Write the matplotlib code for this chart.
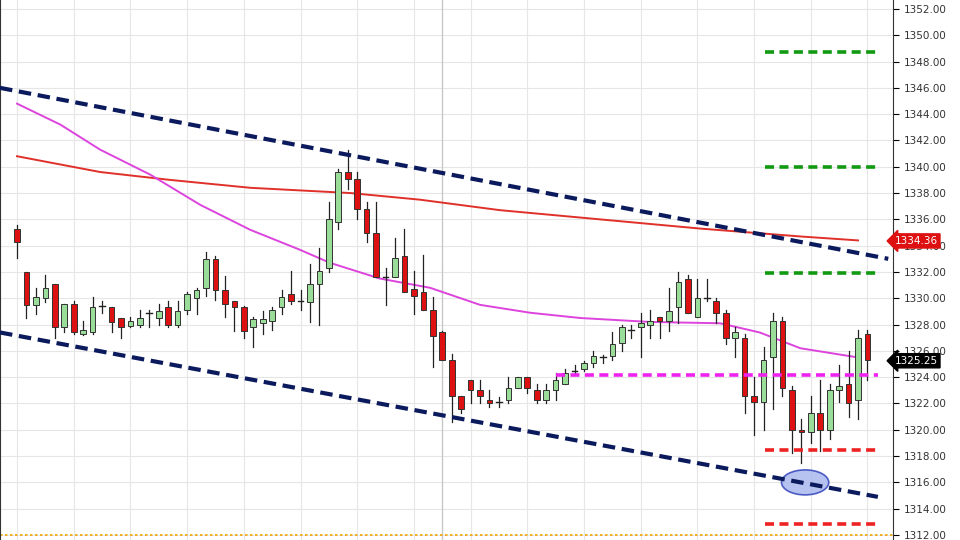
import matplotlib
matplotlib.use("Agg")
import matplotlib.pyplot as plt
from matplotlib.patches import Ellipse, Rectangle

opens = [1335.3,1332,1329.5,1330,1331.1,1327.8,1329.6,1327.3,1327.4,1329.4,1329.3,1328.5,1327.9,1328.0,1328.9,1328.5,1329.3,1328,1329.1,1330,
         1330.8,1333,1330.6,1329.8,1329.3,1327.8,1328.1,1328.3,1329.3,1330.3,1329.8,1329.7,1331.1,1332.3,1335.8,1339.6,1339.1,1336.8,1335,1331.6,
         1331.6,1333.2,1330.7,1330.5,1329.1,1327.4,1325.3,1322.6,1323.8,1323,1322.3,1322.1,1322.3,1323.2,1324,1323,1322.3,1323,1323.5,1324.5,
         1324.6,1325.1,1325.5,1325.6,1326.6,1327.6,1327.8,1328,1328.6,1328.3,1329.3,1331.5,1328.6,1330,1329.8,1328.9,1327,1327,1322.6,1322.1,
         1325.5,1328.3,1323,1320,1319.8,1321.3,1320,1323,1323.5,1322.3,1327.3]
closes = [1334.3,1329.5,1330.1,1330.8,1327.8,1329.6,1327.4,1327.6,1329.3,1329.4,1328.2,1327.8,1328.3,1328.5,1329,1329,1328,1329,1330.3,1330.6,
          1333.0,1330.6,1329.6,1329.3,1327.5,1328.4,1328.4,1329.1,1330.1,1329.8,1329.9,1331.1,1332.1,1336.0,1339.6,1339.1,1336.8,1335.0,1331.6,1331.7,
          1333.1,1330.5,1330.2,1329.1,1327.1,1325.3,1322.6,1321.6,1323.0,1322.6,1322.0,1322.1,1323.2,1324,1323.2,1322.3,1323,1323.8,1324.3,1324.6,
          1325.1,1325.6,1325.5,1326.5,1327.8,1327.6,1328.1,1328.3,1328.3,1329,1331.2,1328.9,1330,1330,1328.9,1327,1327.4,1322.6,1322.1,1325.3,
          1328.3,1323.2,1320,1319.8,1321.3,1320,1323,1323.3,1322,1327,1325.3]
highs = [1335.6,1332,1330.8,1331.8,1331.1,1329.6,1329.8,1328.3,1330.1,1329.8,1329.3,1328.5,1328.6,1329.1,1329.1,1329.6,1329.8,1329.8,1330.5,1330.8,
         1333.5,1333.2,1331.7,1329.8,1329.4,1328.6,1329,1329.3,1330.6,1332.1,1330.6,1332.6,1333.8,1337.3,1339.8,1341.3,1339.6,1337.3,1337.3,1332.3,
         1334.6,1335.3,1332.1,1333.3,1330.1,1327.5,1325.8,1322.6,1323.8,1323.8,1323,1322.5,1324,1324,1324,1323.5,1323.5,1324.3,1324.6,1324.9,
         1325.2,1326,1325.7,1327.4,1328,1328,1328.9,1329.1,1328.6,1330.8,1332,1331.8,1331.5,1331.5,1330,1329.1,1327.8,1327.3,1324,1326.3,
         1328.9,1328.6,1323.3,1320.8,1322.6,1323.8,1323.5,1324.9,1326,1327.6,1327.6]
lows = [1333.1,1328.5,1328.8,1329.7,1327.0,1327.4,1327.3,1327.2,1327.3,1328.9,1327.4,1327.0,1327.8,1327.8,1327.8,1328,1327.8,1327.8,1328.8,1328.8,
        1330.2,1329.9,1328.6,1327.5,1327,1326.3,1327.3,1327.6,1328.8,1329.6,1329.1,1328.2,1328,1332,1335.3,1338.3,1336,1334.3,1331.6,1329.5,
        1331.6,1330.5,1328.8,1329.1,1324.8,1325.3,1320.6,1321.3,1322,1322,1321.7,1321.7,1322,1323.2,1322.8,1322,1322,1322.3,1323.5,1324.3,
        1324.5,1324.8,1325.1,1325.3,1326,1327,1325.5,1327,1327,1327.5,1328.1,1328.9,1328.6,1329.8,1328.1,1326.5,1325.5,1321.3,1319.6,1320,
        1321.6,1322.6,1318.2,1317.5,1319,1318.4,1319.3,1322.1,1321,1320.8,1323.8]

ma_slow_x = [0,8.8,16.2,24.7,35.3,42.6,51.1,61.7,72.3,82.9,89]
ma_slow_y = [1340.8,1339.6,1339.0,1338.4,1338.0,1337.5,1336.7,1336.0,1335.3,1334.7,1334.4]
ma_fast_x = [0,4.6,8.8,14.1,19.4,24.7,29.9,33.1,38.4,43.7,49.0,54.3,59.6,66.98,74.4,78.6,82.9,89]
ma_fast_y = [1344.8,1343.2,1341.3,1339.4,1337.1,1335.2,1333.7,1332.7,1331.5,1330.8,1329.5,1328.9,1328.5,1328.2,1328.1,1327.4,1326.2,1325.5]

upper_ch = ([-1.8, 92.2], [1346.0, 1333.0])
lower_ch = ([-1.8, 91.1], [1327.4, 1314.9])
levels_green = [1348.7, 1340.0, 1331.9]
levels_red = [1318.5, 1312.8]
level_magenta = 1324.2
ticks = [1312 + 2*k for k in range(21)]

fig = plt.figure(figsize=(9.6, 5.4), dpi=100)
ax = fig.add_axes([0, 0, 893/960, 1])
ax.set_xlim(-1.8, 92.7)
ax.set_ylim(1311.62, 1352.68)

for t in ticks:
    ax.axhline(t, color="#e6e6e6", lw=0.8, zorder=0)
for k in range(0, 92, 6):
    ax.axvline(k, color="#e6e6e6", lw=0.8, zorder=0)
ax.axvline(45, color="#c8c8c8", lw=1.0, zorder=0)
ax.axhline(1312, color="#f0a500", lw=1.2, ls=(0, (1.5, 1.5)), zorder=1)

w = 0.6
for i, (o, c, h, l) in enumerate(zip(opens, closes, highs, lows)):
    ax.plot([i, i], [l, h], color="#222222", lw=0.9, zorder=3)
    col = "#99dd99" if c >= o else "#dd1111"
    bh = abs(c - o)
    if bh < 0.12:
        ax.plot([i - w/2, i + w/2], [o, o], color="#222222", lw=1.0, zorder=4)
    else:
        ax.add_patch(Rectangle((i - w/2, min(o, c)), w, bh, facecolor=col,
                               edgecolor="#333333", lw=0.7, zorder=4))

ax.plot(ma_slow_x, ma_slow_y, color="#e0302a", lw=1.4, zorder=2)
ax.plot(ma_fast_x, ma_fast_y, color="#dd44dd", lw=1.4, zorder=2)
ax.plot(*upper_ch, color="#0a1a5c", lw=3, ls=(0, (3, 1.6)), zorder=5)
ax.plot(*lower_ch, color="#0a1a5c", lw=3, ls=(0, (3, 1.6)), zorder=5)

for lv in levels_green:
    ax.plot([79.2, 91.1], [lv, lv], color="#119911", lw=2.6, ls=(0, (2.5, 1.5)), zorder=5)
for lv in levels_red:
    ax.plot([79.2, 91.1], [lv, lv], color="#ee2222", lw=2.6, ls=(0, (2.5, 1.5)), zorder=5)
ax.plot([57.0, 91.1], [level_magenta]*2, color="#ee22ee", lw=2.6, ls=(0, (2.5, 1.5)), zorder=5)

ax.add_patch(Ellipse((83.4, 1316.0), 5.0, 1.9, facecolor="#aab8ee", edgecolor="#3344bb",
                     lw=1.2, alpha=0.85, zorder=4.5))

ax.yaxis.tick_right()
ax.set_yticks(ticks)
ax.set_yticklabels([f"{t:.2f}" for t in ticks], fontsize=7.5, color="#333333")
ax.tick_params(axis="y", direction="out", length=4, pad=4)
ax.set_xticks([])
for s in ["top", "bottom"]:
    ax.spines[s].set_visible(False)
ax.spines["left"].set_color("#333333")
ax.spines["right"].set_color("#333333")

ax.text(1.002, (1334.36 - 1311.62) / 41.06, "1334.36", transform=ax.transAxes, fontsize=7.5,
        color="white", va="center", ha="left", zorder=10,
        bbox=dict(boxstyle="larrow,pad=0.2", fc="#dd1111", ec="#dd1111"))
ax.text(1.002, (1325.25 - 1311.62) / 41.06, "1325.25", transform=ax.transAxes, fontsize=7.5,
        color="white", va="center", ha="left", zorder=10,
        bbox=dict(boxstyle="larrow,pad=0.2", fc="black", ec="black"))

fig.savefig("out.png", dpi=100)
